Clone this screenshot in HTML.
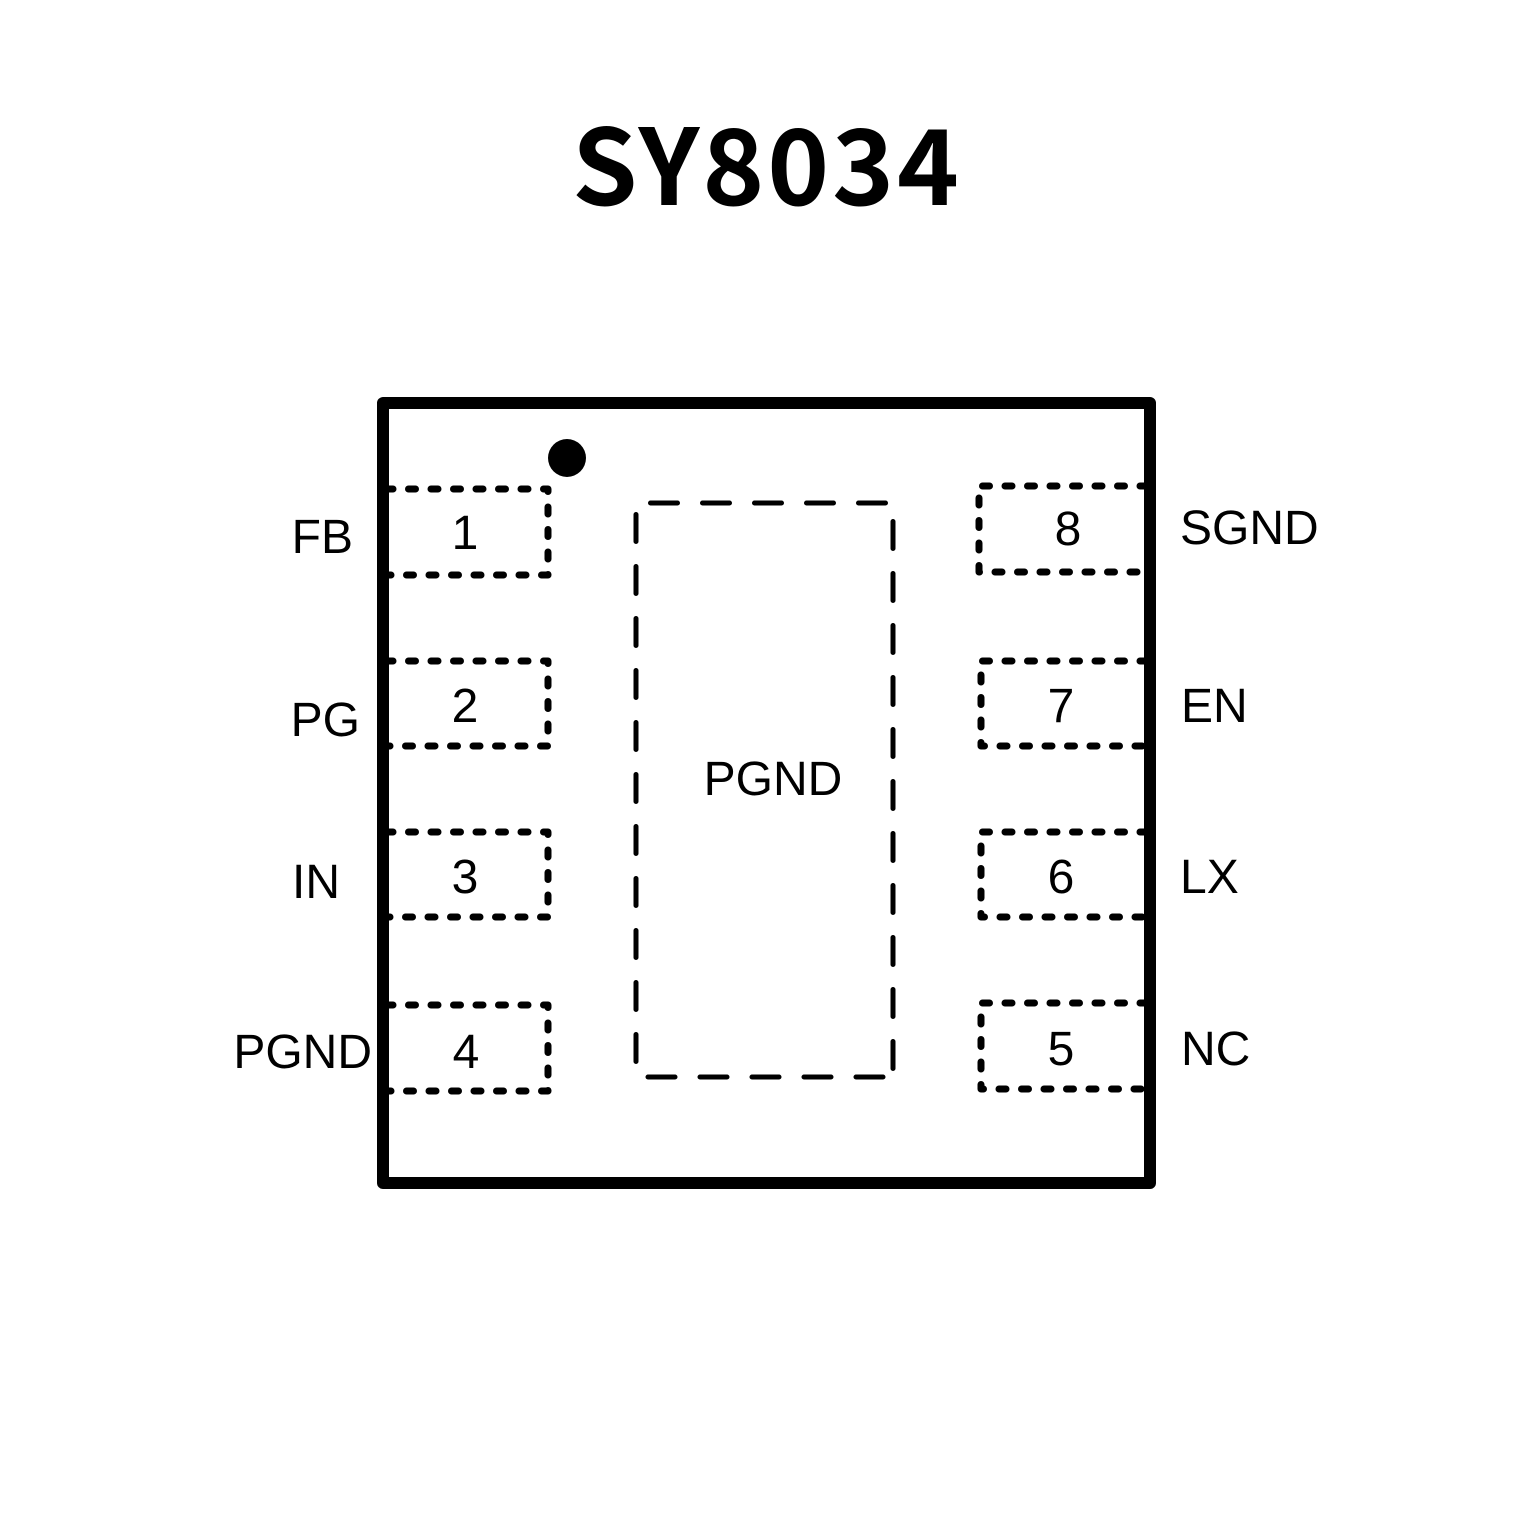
<!DOCTYPE html>
<html>
<head>
<meta charset="utf-8">
<style>
  html, body { margin: 0; padding: 0; background: #fff; }
  body { width: 1535px; height: 1535px; overflow: hidden; }
  svg { display: block; }
  .lbl { font-family: "Liberation Sans", Arial, sans-serif; font-size: 48px; fill: #000; }
  .title { font-family: "Noto Sans CJK SC", "Liberation Sans", sans-serif; font-weight: 700; font-size: 105px; fill: #000; }
</style>
</head>
<body>
<svg width="1535" height="1535" viewBox="0 0 1535 1535" xmlns="http://www.w3.org/2000/svg">
  <rect x="0" y="0" width="1535" height="1535" fill="#fff"/>

  <!-- Title -->
  <text class="title" x="572" y="205" textLength="387" lengthAdjust="spacing">SY8034</text>

  <!-- Left pin pads -->
  <g fill="none" stroke="#000" stroke-width="7" stroke-linecap="round" stroke-linejoin="round" stroke-dasharray="7 15.5">
    <path d="M386 489 H548 V575 H386"/>
    <path d="M386 661 H548 V746 H386"/>
    <path d="M386 832 H548 V917 H386"/>
    <path d="M386 1005 H548 V1091 H386"/>
  </g>

  <!-- Right pin pads -->
  <g fill="none" stroke="#000" stroke-width="7" stroke-linecap="round" stroke-linejoin="round" stroke-dasharray="7 15.5">
    <path d="M1147 486 H979 V572 H1147"/>
    <path d="M1147 661 H981 V746 H1147"/>
    <path d="M1147 832 H981 V917 H1147"/>
    <path d="M1147 1003 H981 V1089 H1147"/>
  </g>

  <!-- Package outline -->
  <rect x="383" y="403" width="767" height="780" fill="none" stroke="#000" stroke-width="12" stroke-linejoin="round"/>

  <!-- Pin 1 marker -->
  <circle cx="567" cy="458" r="19" fill="#000"/>

  <!-- Exposed pad (PGND) dashed -->
  <g fill="none" stroke="#000" stroke-width="5" stroke-linecap="round" stroke-dasharray="27 25">
    <line x1="650.5" y1="503" x2="893" y2="503"/>
    <line x1="893" y1="521.5" x2="893" y2="1077"/>
    <line x1="636" y1="514.5" x2="636" y2="1077"/>
    <line x1="648" y1="1077" x2="893" y2="1077"/>
  </g>

  <!-- Left labels -->
  <text class="lbl" x="353" y="553" text-anchor="end">FB</text>
  <text class="lbl" x="360" y="736" text-anchor="end">PG</text>
  <text class="lbl" x="340" y="898" text-anchor="end">IN</text>
  <text class="lbl" x="372" y="1068" text-anchor="end">PGND</text>

  <!-- Left pin numbers -->
  <text class="lbl" x="465" y="549" text-anchor="middle">1</text>
  <text class="lbl" x="465" y="722" text-anchor="middle">2</text>
  <text class="lbl" x="465" y="893" text-anchor="middle">3</text>
  <text class="lbl" x="466" y="1068" text-anchor="middle">4</text>

  <!-- Right pin numbers -->
  <text class="lbl" x="1068" y="545" text-anchor="middle">8</text>
  <text class="lbl" x="1061" y="722" text-anchor="middle">7</text>
  <text class="lbl" x="1061" y="893" text-anchor="middle">6</text>
  <text class="lbl" x="1061" y="1065" text-anchor="middle">5</text>

  <!-- Right labels -->
  <text class="lbl" x="1180" y="544">SGND</text>
  <text class="lbl" x="1181" y="722">EN</text>
  <text class="lbl" x="1180" y="893">LX</text>
  <text class="lbl" x="1181" y="1065">NC</text>

  <!-- Center label -->
  <text class="lbl" x="773" y="795" text-anchor="middle">PGND</text>
</svg>
</body>
</html>
